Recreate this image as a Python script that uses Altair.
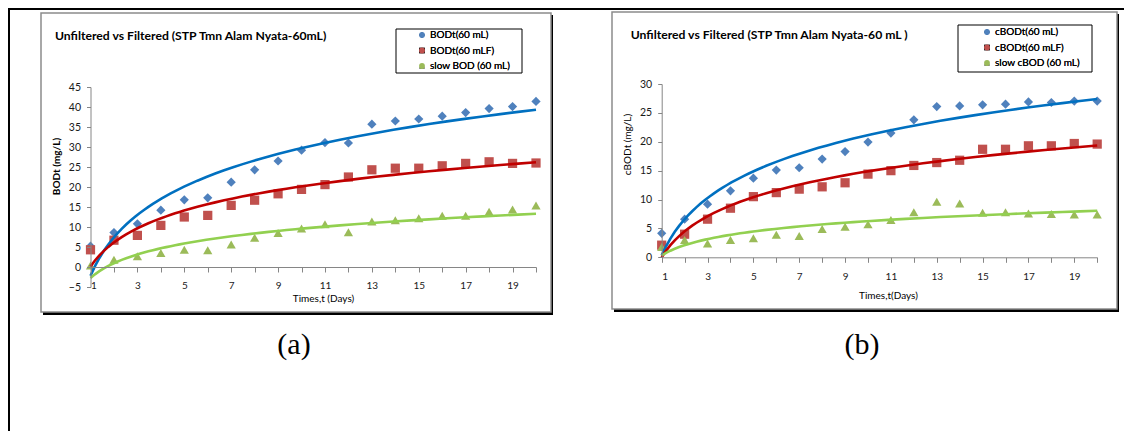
import altair as alt
import pandas as pd

days = list(range(1, 21))

a_series = ["BODt(60 mL)", "BODt(60 mLF)", "slow BOD (60 mL)"]
a_bod = [5.2, 8.6, 10.8, 14.2, 16.8, 17.3, 21.2, 24.3, 26.5, 29.2, 31.1, 31.0, 35.7, 36.5, 37.0, 37.7, 38.6, 39.6, 40.1, 41.4]
a_bodf = [4.3, 6.7, 7.9, 10.4, 12.5, 12.9, 15.4, 16.7, 18.3, 19.4, 20.6, 22.5, 24.3, 24.7, 24.7, 25.3, 25.9, 26.3, 25.9, 26.0]
a_slow = [0.4, 1.8, 2.7, 3.5, 4.3, 4.2, 5.6, 7.3, 8.5, 9.6, 10.7, 8.7, 11.4, 11.7, 12.2, 12.8, 12.8, 13.8, 14.4, 15.4]

b_series = ["cBODt(60 mL)", "cBODt(60 mLF)", "slow cBOD (60 mL)"]
b_bod = [4.15, 6.6, 9.2, 11.5, 13.7, 15.1, 15.5, 17.0, 18.3, 19.95, 21.5, 23.8, 26.1, 26.2, 26.4, 26.5, 26.9, 26.8, 27.05, 27.05]
b_bodf = [2.1, 4.0, 6.6, 8.5, 10.5, 11.2, 11.8, 12.2, 12.9, 14.4, 15.0, 15.9, 16.4, 16.8, 18.7, 18.7, 19.3, 19.3, 19.7, 19.6]
b_slow = [1.8, 3.0, 2.4, 3.0, 3.3, 3.9, 3.7, 4.9, 5.3, 5.7, 6.45, 7.8, 9.6, 9.3, 7.7, 7.8, 7.6, 7.5, 7.4, 7.4]

a_yticks = [-5, 0, 5, 10, 15, 20, 25, 30, 35, 40, 45]
b_yticks = [0, 5, 10, 15, 20, 25, 30]

marker_colors = ["#4F81BD", "#C0504D", "#9BBB59"]
marker_shapes = ["diamond", "square", "triangle-up"]
trend_colors = ["#0070C0", "#C00000", "#92D050"]

FONT = "Lato"
W, H = 1116, 423


def long_table(series, columns):
    rows = []
    for s, vals in zip(series, columns):
        for d, v in zip(days, vals):
            rows.append({"day": d, "value": v, "series": s})
    return pd.DataFrame(rows)


def panel(df, series, xr, yr, ydom, yticks, ytitle, xtitle, xaxis_y, yaxis_x,
          xtitle_xy, ytitle_xy, legend_xy, x_labpad, ytitle_bold):
    x = alt.X(
        "day:Q",
        scale=alt.Scale(domain=[1, 20], range=xr, nice=False, zero=False),
        axis=alt.Axis(
            orient="bottom", offset=xaxis_y - H, values=days, zindex=2,
            labelExpr="datum.value % 2 == 1 ? datum.label : ''",
            tickSize=5, labelPadding=x_labpad, labelFontSize=10,
            title=xtitle, titleX=xtitle_xy[0], titleY=xtitle_xy[1],
            titleBaseline="middle", titleAlign="center",
            titleFontSize=10, titleFontWeight="normal",
        ),
    )
    y = alt.Y(
        "value:Q",
        scale=alt.Scale(domain=ydom, range=yr, nice=False, zero=False),
        axis=alt.Axis(
            orient="left", offset=-yaxis_x, values=yticks, zindex=2,
            tickSize=4, labelPadding=6, labelFontSize=10.5,
            title=ytitle, titleX=ytitle_xy[0], titleY=ytitle_xy[1],
            titleAngle=270, titleBaseline="middle", titleAlign="center",
            titleFontSize=10, titleFontWeight="bold" if ytitle_bold else "normal",
        ),
    )
    leg = alt.Legend(
        orient="none", legendX=legend_xy[0], legendY=legend_xy[1], title=None,
        labelFont=FONT, labelFontSize=10, labelFontWeight="normal", labelColor="#000",
        symbolSize=34, labelOffset=3, rowPadding=5.5, padding=0, symbolStrokeWidth=0,
        zindex=3,
    )
    pts = alt.Chart(df).mark_point(filled=True, size=85, opacity=1).encode(
        x=x, y=y,
        color=alt.Color("series:N", scale=alt.Scale(domain=series, range=marker_colors), legend=leg),
        shape=alt.Shape("series:N", scale=alt.Scale(domain=series, range=marker_shapes), legend=leg),
    )
    lines = alt.Chart(df).transform_regression(
        "day", "value", method="log", groupby=["series"], extent=[1, 20]
    ).mark_line(strokeWidth=2.6).encode(
        x=x, y=y,
        color=alt.Color("series:N", scale=alt.Scale(domain=series, range=trend_colors), legend=None),
    )
    return alt.layer(pts, lines).resolve_scale(color="independent")


one = alt.Data(values=[{}])


def box(x1, x2, y1, y2, fill="white", stroke=None, sw=0):
    kw = dict(fill=fill)
    if stroke:
        kw.update(stroke=stroke, strokeWidth=sw)
    return alt.Chart(one).mark_rect(**kw).encode(
        x=alt.value(x1), x2=alt.value(x2), y=alt.value(y1), y2=alt.value(y2)
    )


def label(txt, x, y, size, weight="normal", font=FONT, align="left"):
    return alt.Chart(one).mark_text(
        text=txt, font=font, fontSize=size, fontWeight=weight, align=align,
        baseline="middle", color="#000"
    ).encode(x=alt.value(x), y=alt.value(y))


df_a = long_table(a_series, [a_bod, a_bodf, a_slow])
df_b = long_table(b_series, [b_bod, b_bodf, b_slow])

panel_a = panel(df_a, a_series, [82.5, 528], [279, 79], [-5, 45], a_yticks,
                "BODt (mg/L)", "Times,t (Days)", 259, 82.5,
                (315, 31), (-34, 158), (409, 22), 8, True)
panel_b = panel(df_b, b_series, [653.7, 1089.2], [249.3, 76], [0, 30], b_yticks,
                "cBODt (mg/L)", "Times,t(Days)", 249.3, 653.7,
                (880, 38), (-34, 136), (974, 19), 9, False)

decor = [
    # outer border lines
    box(0, W, 0, 2, fill="#000"),
    box(0, 2, 0, H, fill="#000"),
    # panel frames (shadow + gray border)
    box(35, 545, 7, 307, fill="#000"),
    box(33, 543, 5, 304, fill="white", stroke="#8c8c8c", sw=1.5),
    box(606, 1111, 6, 304, fill="#000"),
    box(604, 1109, 4, 301, fill="white", stroke="#8c8c8c", sw=1.5),
    # legend boxes
    box(388, 514, 21, 65, fill="white", stroke="#000", sw=1),
    box(950, 1084, 17, 64, fill="white", stroke="#000", sw=1),
]

texts = [
    label("Unfiltered vs Filtered (STP Tmn Alam Nyata-60mL)", 47, 28, 12.2, "bold"),
    label("Unfiltered vs Filtered (STP Tmn Alam Nyata-60 mL )", 622.7, 27, 12.2, "bold"),
    label("(a)", 286, 337, 30, font="Liberation Serif", align="center"),
    label("(b)", 854, 337, 30, font="Liberation Serif", align="center"),
]

chart = alt.layer(*decor, panel_a, panel_b, *texts).resolve_scale(
    x="independent", y="independent", color="independent", shape="independent"
).properties(
    width=W, height=H, padding=0, background="white",
    autosize=alt.AutoSizeParams(type="none"),
).configure_view(stroke=None).configure_axis(
    grid=False, domainColor="#868686", tickColor="#868686", labelColor="#1a1a1a",
    titleColor="#000", labelFont=FONT, titleFont=FONT, domainWidth=1, tickWidth=1,
)

chart.save("out.html", embed_options={"renderer": "svg", "actions": False})
